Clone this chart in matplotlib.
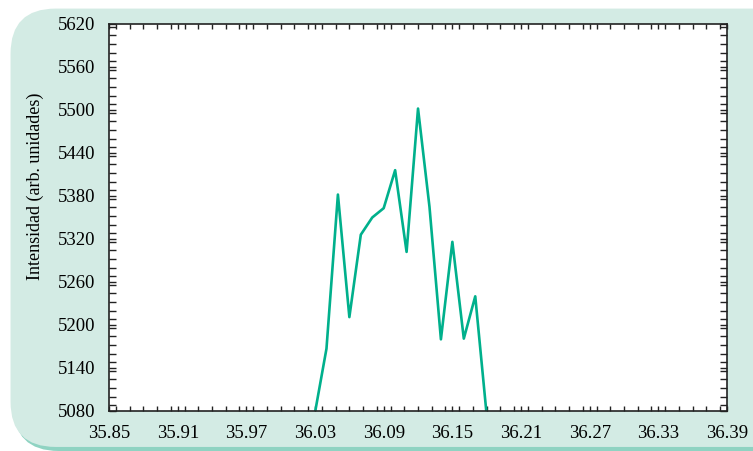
import matplotlib.pyplot as plt
import numpy as np
from matplotlib.patches import FancyBboxPatch
from matplotlib.ticker import MultipleLocator, FixedLocator

# angle (2theta) and intensity
two_theta = [36.03, 36.04, 36.05, 36.06, 36.07, 36.08, 36.09, 36.10,
             36.11, 36.12, 36.13, 36.14, 36.15, 36.16, 36.17, 36.18]
intensity = [5078, 5167, 5382, 5211, 5326, 5350, 5363, 5416,
             5302, 5502, 5365, 5180, 5316, 5181, 5240, 5074]

x_ticks = [35.85, 35.91, 35.97, 36.03, 36.09, 36.15, 36.21, 36.27, 36.33, 36.39]
y_ticks = [5080, 5140, 5200, 5260, 5320, 5380, 5440, 5500, 5560, 5620]

plt.rcParams['font.family'] = ['Liberation Serif', 'DejaVu Serif']

fig = plt.figure(figsize=(7.53, 4.51), dpi=100)
fig.patch.set_facecolor('white')

# rounded background panel (behind the axes)
shadow = FancyBboxPatch((0.018, 0.0), 1.05, 0.975, boxstyle='round,pad=0,rounding_size=0.06',
                        transform=fig.transFigure, facecolor='#8fd3c2', edgecolor='none',
                        mutation_aspect=753 / 451, zorder=-2)
panel = FancyBboxPatch((0.014, 0.009), 1.05, 0.972, boxstyle='round,pad=0,rounding_size=0.06',
                       transform=fig.transFigure, facecolor='#d3ebe4', edgecolor='none',
                       mutation_aspect=753 / 451, zorder=-1)
fig.patches.extend([shadow, panel])

ax = fig.add_axes([0.1448, 0.0887, 0.8207, 0.8581])
ax.set_facecolor('white')
ax.plot(two_theta, intensity, color='#00b08c', linewidth=1.9, clip_on=True)

ax.set_xlim(35.85, 36.39)
ax.set_ylim(5080, 5620)
ax.xaxis.set_major_locator(FixedLocator(x_ticks))
ax.yaxis.set_major_locator(FixedLocator(y_ticks))
ax.xaxis.set_minor_locator(MultipleLocator(0.012))
ax.yaxis.set_minor_locator(MultipleLocator(12))
ax.set_xticklabels([f'{v:.2f}' for v in x_ticks])
ax.set_yticklabels([str(v) for v in y_ticks])

ax.tick_params(which='both', direction='in', top=True, right=True,
               width=1, color='#222222', labelsize=13.5)
ax.tick_params(axis='x', which='both', length=3.3, pad=10)
ax.tick_params(axis='y', which='both', length=5, pad=10)
for s in ax.spines.values():
    s.set_linewidth(1.2)
    s.set_color('#222222')

ax.set_ylabel('Intensidad (arb. unidades)', fontsize=13)
ax.yaxis.set_label_coords(-0.105, 0.58)

fig.savefig('out.png', dpi=100)
